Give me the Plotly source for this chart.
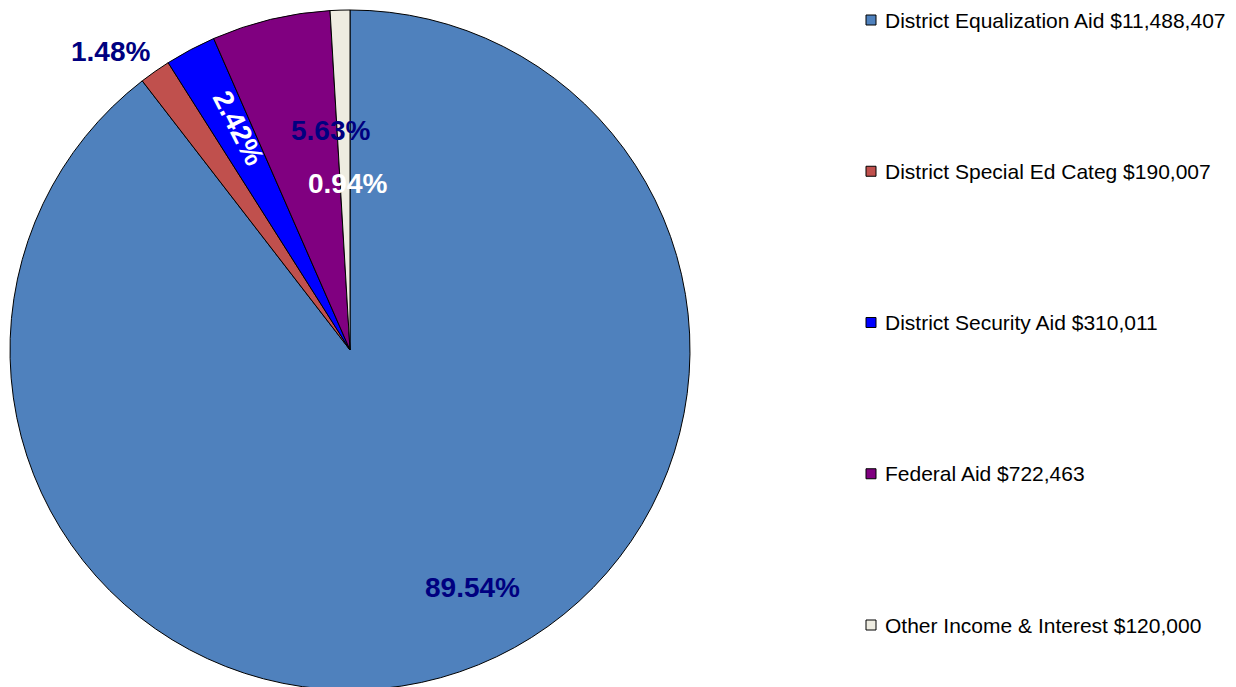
import math
import plotly.graph_objects as go

# ---- data ----
categories = [
    "District Equalization Aid",
    "District Special Ed Categ",
    "District Security Aid",
    "Federal Aid",
    "Other Income & Interest",
]
amounts = [11488407, 190007, 310011, 722463, 120000]

# ---- styles ----
colors = ["#4F81BD", "#C0504D", "#0000FF", "#800080", "#EEECE1"]
label_colors = ["#000080", "#000080", "#FFFFFF", "#000080", "#FFFFFF"]
label_radius = [0.785, 1.126, 0.73, 0.647, 0.49]
label_angle_offset = [-8.4, -3.8, 1.4, 8.5, 0.7]
label_rotation = [0, 0, 63, 0, 0]

W, H = 1236, 687
OFF = 8  # page body margin
R = 340
cx_px, cy_px = 350 - OFF, 350 - OFF

fig = go.Figure()
fig.add_trace(go.Pie(
    labels=categories,
    values=amounts,
    sort=False,
    direction="clockwise",
    rotation=0,
    marker=dict(colors=colors, line=dict(color="#000000", width=1)),
    textinfo="none",
    hoverinfo="label+value+percent",
    showlegend=False,
    domain=dict(x=[(cx_px - R) / W, (cx_px + R) / W],
                y=[1 - (cy_px + R) / H, 1 - (cy_px - R) / H]),
))

total = sum(amounts)
annotations = []
shapes = []
cum = 0.0
for i, v in enumerate(amounts):
    frac = v / total
    mid = (cum + frac / 2) * 360 + label_angle_offset[i]
    cum += frac
    th = math.radians(mid)
    px = cx_px + label_radius[i] * R * math.sin(th)
    py = cy_px - label_radius[i] * R * math.cos(th)
    annotations.append(dict(
        x=px / W, y=1 - py / H, xref="paper", yref="paper",
        text=f"<b>{frac * 100:.2f}%</b>", showarrow=False,
        textangle=label_rotation[i],
        font=dict(family="Liberation Sans, Arial", size=28, color=label_colors[i]),
        xanchor="center", yanchor="middle",
    ))

# custom legend
leg_top, leg_step = 20 - OFF, 151.25
for i, (name, v) in enumerate(zip(categories, amounts)):
    y_px = leg_top + i * leg_step
    shapes.append(dict(
        type="rect", xref="paper", yref="paper",
        x0=(866 - OFF) / W, x1=(876 - OFF) / W,
        y0=1 - (y_px - 5) / H, y1=1 - (y_px + 5) / H,
        fillcolor=colors[i], line=dict(color="#000000", width=1),
    ))
    annotations.append(dict(
        x=(883 - OFF) / W, y=1 - y_px / H, xref="paper", yref="paper",
        text=f"{name} ${v:,}", showarrow=False,
        xanchor="left", yanchor="middle",
        font=dict(family="Liberation Sans, Arial", size=21, color="#000000"),
    ))

fig.update_layout(
    width=W, height=H,
    margin=dict(l=0, r=0, t=0, b=0),
    paper_bgcolor="#FFFFFF",
    plot_bgcolor="#FFFFFF",
    annotations=annotations,
    shapes=shapes,
)

fig.write_html("out.html")
